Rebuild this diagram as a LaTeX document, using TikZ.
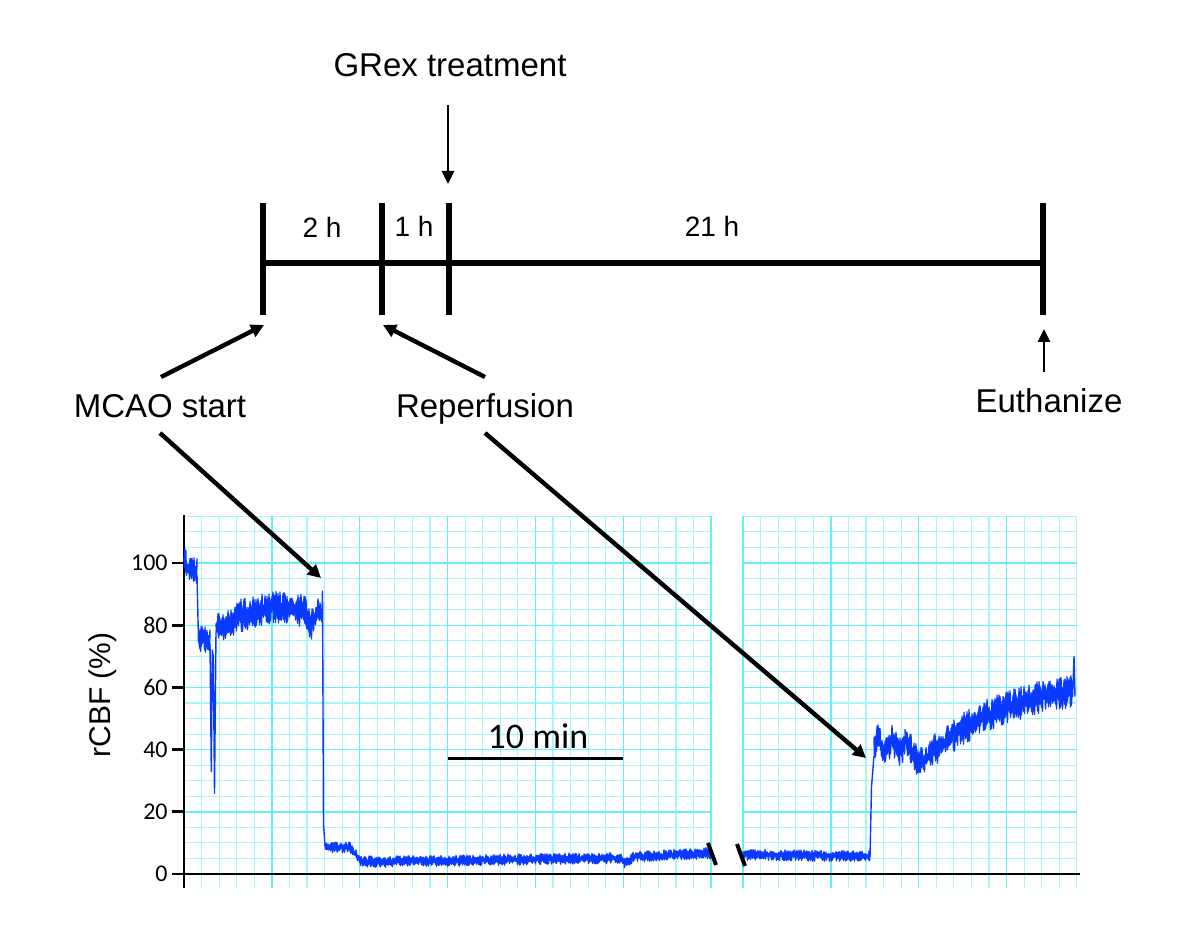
\documentclass[tikz,border=0pt]{standalone}
\usepackage{fontspec}
\setmainfont{Liberation Sans}
\newfontfamily\calib{Carlito}
\usetikzlibrary{arrows.meta}
\definecolor{gridmaj}{HTML}{66F0FA}
\definecolor{gridmin}{HTML}{A8F4FA}
\definecolor{tracecol}{HTML}{0A3AFF}
\begin{document}
\begin{tikzpicture}[x=0.5pt,y=-0.5pt,
  declare function={Y(\v)=874-3.11*\v; N(\t,\a)=\a*(1-2*mod(round(2*\t),2))*(0.15+0.85*rnd);},
  bigtext/.style={font=\fontsize{16.5}{19}\selectfont, inner sep=0pt, anchor=base},
  hrtext/.style={font=\fontsize{14}{16}\selectfont, inner sep=0pt, anchor=base},
  tline/.style={line width=3pt},
  arr/.style={line width=2.2pt, -{Triangle[length=6.5pt,width=6.5pt]}},
  varr/.style={line width=1.4pt, -{Triangle[length=6.5pt,width=6pt]}},
  gmin/.style={gridmin, line width=0.55pt},
  gmaj/.style={gridmaj, line width=0.7pt},
  trace/.style={tracecol, line width=0.7pt, line join=round}]
\useasboundingbox (0,0) rectangle (1200,936);
\pgfmathsetseed{7}

% ---------- timeline ----------
\draw[line width=2.8pt] (263,263) -- (1043,263);
\draw[tline] (263,203) coordinate (t0t) -- (263,315) coordinate (t0b);
\draw[tline] (382,203) coordinate (t1t) -- (382,315) coordinate (t1b);
\draw[tline] (449,203) coordinate (t2t) -- (449,315) coordinate (t2b);
\draw[tline] (1043,203) coordinate (t3t) -- (1043,315) coordinate (t3b);
\node[hrtext] (h2) at (322,238) {2 h};
\node[hrtext] (h1) at (414,237) {1 h};
\node[hrtext] (h21) at (712,237) {21 h};

\node[bigtext] (grex) at (450,77) {GRex treatment};
\node[bigtext] (mcao) at (160,417) {MCAO start};
\node[bigtext] (reperf) at (485,417) {Reperfusion};
\node[bigtext] (euth) at (1049,413) {Euthanize};

\coordinate (grexS) at (448,105);
\coordinate (grexT) at (448,184);
\coordinate (mcaoS) at (161,377);
\coordinate (mcaoT) at (264,325);
\coordinate (repS) at (485,377);
\coordinate (repT) at (383,325);
\coordinate (euthS) at (1044,372);
\coordinate (euthT) at (1044,329);
\coordinate (mcaoS2) at (160,433);
\coordinate (mcaoT2) at (321,578);
\coordinate (repS2) at (485,433);
\coordinate (repT2) at (866,758);

% ---------- grid ----------
\foreach \k in {1,...,29} \draw[gmin] ({184+17.57*\k},516) -- ({184+17.57*\k},888);
\foreach \j in {1,...,23} \draw[gmin] (184,{874-15.55*\j}) -- (711,{874-15.55*\j});
\foreach \k in {1,...,19} \draw[gmin] ({743+17.57*\k},516) -- ({743+17.57*\k},888);
\foreach \j in {1,...,23} \draw[gmin] (743,{874-15.55*\j}) -- (1077,{874-15.55*\j});
\foreach \k in {5,10,...,30} \draw[gmaj] ({184+17.57*\k},516) -- ({184+17.57*\k},888);
\foreach \j in {4,8,...,20} \draw[gmaj] (184,{874-15.55*\j}) -- (711,{874-15.55*\j});
\foreach \k in {0,5,10,15} \draw[gmaj] ({743+17.57*\k},516) -- ({743+17.57*\k},888);
\foreach \j in {4,8,...,20} \draw[gmaj] (743,{874-15.55*\j}) -- (1077,{874-15.55*\j});

% ---------- axes ----------
\draw[line width=1pt] (184,515) -- (184,888);
\draw[line width=0.9pt] (184,874) -- (1080,874);
\foreach \v in {0,20,...,100} {
  \draw[line width=1.4pt] (172,{Y(\v)}) -- (184,{Y(\v)});
  \node[anchor=east, inner sep=0pt, font=\calib\fontsize{12}{14}\selectfont] (yl\v) at (168,{Y(\v)}) {\v};
}
\node[rotate=90, inner sep=0pt, font=\fontsize{15}{18}\selectfont] (ylab) at (103,695) {rCBF (\%)};

% ---------- trace ----------
\begin{scope}[trace]
\draw plot[domain=184:186,samples=5] (\x,{Y(101+N(\x,4))});
\draw plot[domain=186:197,samples=23] (\x,{Y(98.5-0.1*(\x-186)+N(\x,4.2))});
\draw (197,{Y(96)}) -- (198.5,{Y(75)});
\draw plot[domain=198.5:210,samples=24] (\x,{Y(75.5+N(\x,4.2))});
\draw (210,{Y(74)}) -- (211.3,{Y(33)}) -- (212.3,{Y(72)}) -- (213.3,{Y(70)}) -- (214.5,{Y(26)}) -- (216,{Y(78)});
\draw plot[domain=216:240,samples=49] (\x,{Y(78.5+0.18*(\x-216)+N(\x,5))});
\draw plot[domain=240:275,samples=71] (\x,{Y(83+0.09*(\x-240)+N(\x,5.3))});
\draw plot[domain=275:305,samples=61] (\x,{Y(86-0.05*(\x-275)+N(\x,5.3))});
\draw plot[domain=305:316,samples=23] (\x,{Y(84-4*sin(180*(\x-305)/11)+N(\x,6))});
\draw plot[domain=316:322,samples=13] (\x,{Y(84+N(\x,5))});
\draw (322,{Y(84)}) -- (322.5,{Y(91)}) -- (323.5,{Y(16)}) -- (325,{Y(9)});
\draw plot[domain=325:350,samples=51] (\x,{Y(8.6+N(\x,1.8))});
\draw plot[domain=350:362,samples=25] (\x,{Y(8.6-5*(\x-350)/12+N(\x,1.7))});
\draw plot[domain=362:620,samples=517] (\x,{Y(3.9+0.005*(\x-362)+N(\x,1.8))});
\draw plot[domain=620:632,samples=25] (\x,{Y(5.2-1.6*sin(180*(\x-620)/12)+N(\x,1.7))});
\draw plot[domain=632:711,samples=159] (\x,{Y(5.5+0.016*(\x-632)+N(\x,1.8))});
\draw plot[domain=743:870,samples=255] (\x,{Y(6.2-0.004*(\x-743)+N(\x,1.8))});
\draw (870,{Y(5.5)}) -- (871.5,{Y(28)}) -- (874,{Y(38)});
\draw plot[domain=874:905,samples=63] (\x,{Y(41+2*sin(25*(\x-874))+N(\x,5))});
\draw plot[domain=905:920,samples=31] (\x,{Y(43-8*(\x-905)/15+N(\x,5))});
\draw plot[domain=920:1073,samples=307] (\x,{Y(35+28*(1-exp(-(\x-920)/80))+N(\x,5.3))});
\draw (1073,{Y(60)}) -- (1074,{Y(70)}) -- (1075,{Y(57)});
\end{scope}

% ---------- break marks and scale bar ----------
\draw[line width=2pt] (708,843) coordinate (b1a) -- (716,865) coordinate (b1b);
\draw[line width=2pt] (737,844) coordinate (b2a) -- (745,866) coordinate (b2b);
\draw[line width=1.5pt] (448,758) coordinate (sbL) -- (623,758) coordinate (sbR);
\node[anchor=base, inner sep=0pt, font=\calib\fontsize{18}{20}\selectfont] (tenmin) at (538,748) {10 min};

% ---------- arrows ----------
\draw[varr] (grexS) -- (grexT);
\draw[arr] (mcaoS) -- (mcaoT);
\draw[arr] (repS) -- (repT);
\draw[varr] (euthS) -- (euthT);
\draw[arr] (mcaoS2) -- (mcaoT2);
\draw[arr] (repS2) -- (repT2);
\end{tikzpicture}
\end{document}
